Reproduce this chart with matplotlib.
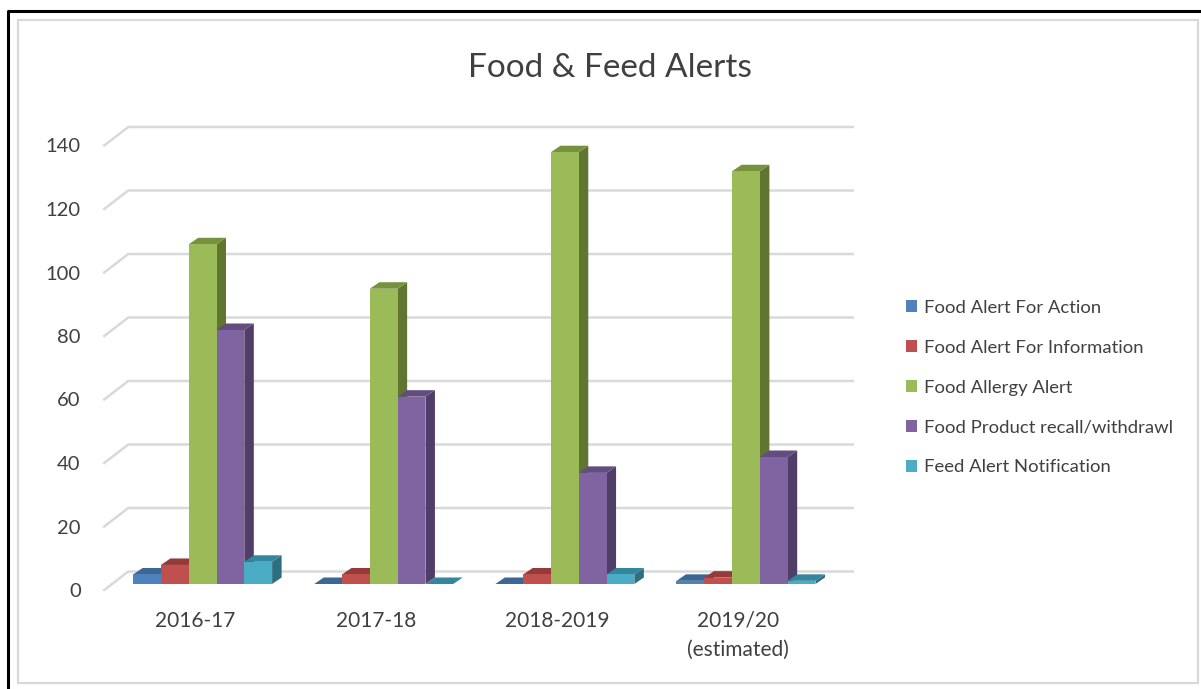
import numpy as np
import matplotlib
matplotlib.use("Agg")
import matplotlib.pyplot as plt
from matplotlib.patches import Polygon, Patch, Rectangle
from matplotlib.lines import Line2D

# data
years = ["2016-17", "2017-18", "2018-2019", "2019/20\n(estimated)"]
food_action = [3, 0, 0, 1]
food_info = [6, 3, 3, 2]
food_allergy = [107, 93, 136, 130]
food_recall = [80, 59, 35, 40]
feed_notif = [7, 0, 3, 1]
series_names = ["Food Alert For Action", "Food Alert For Information", "Food Allergy Alert",
                "Food Product recall/withdrawl", "Feed Alert Notification"]
y_ticks = [0, 20, 40, 60, 80, 100, 120, 140]

series = [food_action, food_info, food_allergy, food_recall, feed_notif]
front_cols = ["#4F81BD", "#C0504D", "#9BBB59", "#8064A2", "#4BACC6"]
top_cols = ["#3C6694", "#953A38", "#76923C", "#624C80", "#34869C"]
side_cols = ["#30537C", "#7C2F2D", "#5F7530", "#503E68", "#2F6E80"]
text_col = "#404040"

W, H = 1201, 689
plt.rcParams["font.family"] = ["Lato", "DejaVu Sans"]
fig = plt.figure(figsize=(W / 100, H / 100), dpi=100)
fig.patch.set_facecolor("white")

# frames
fig.add_artist(Rectangle((18 / W, 1 - 683 / H), 1180 / W, 663 / H, transform=fig.transFigure,
                         fill=False, ec="#D9D9D9", lw=1.6))
fig.add_artist(Line2D([8 / W, 8 / W, 1], [0, 1 - 11 / H, 1 - 11 / H], transform=fig.transFigure,
                      color="black", lw=2.2))

ax_w = 724.5
ax_h = 444.5
ax = fig.add_axes([104.25 / W, 1 - 590 / H, ax_w / W, ax_h / H])
ax.set_xlim(-0.5, 3.5)
ax.set_ylim(0, 140)
for s in ax.spines.values():
    s.set_visible(False)
ax.patch.set_alpha(0)

# pixel -> data size
px_x = 4 / ax_w
px_y = 140 / ax_h

# wall gridlines
wall_x = 24 * px_x
wall_y = 18.5 * px_y
for t in y_ticks:
    ax.plot([-0.5, -0.5 + wall_x, 3.5 + wall_x], [t, t + wall_y, t + wall_y], color="#D9D9D9",
            lw=1.8, clip_on=False, zorder=1, solid_joinstyle="miter")

bar_w = 27.8 * px_x
dx0 = 7.8 * px_x
dy0 = 6 * px_y
dx = 9.5 * px_x
dy = 6.5 * px_y

for i in range(len(years)):
    for j, vals in enumerate(series):
        v = vals[i]
        x0 = i + dx0 + (j - 2.5) * bar_w
        x1 = x0 + bar_w
        y0 = dy0
        y1 = dy0 + v
        z = 3 + i * 10 + j
        side = [(x1, y0), (x1 + dx, y0 + dy), (x1 + dx, y1 + dy), (x1, y1)]
        top = [(x0, y1), (x1, y1), (x1 + dx, y1 + dy), (x0 + dx, y1 + dy)]
        ax.add_patch(Polygon(side, fc=side_cols[j], ec="none", clip_on=False, zorder=z))
        ax.add_patch(Polygon(top, fc=top_cols[j], ec="none", clip_on=False, zorder=z))
        if v > 0:
            ax.add_patch(Rectangle((x0, y0), bar_w, v, fc=front_cols[j], ec="none", clip_on=False, zorder=z))

ax.set_xticks(range(len(years)))
ax.set_xticklabels(years, fontsize=15, color=text_col, linespacing=1.55)
ax.set_yticks(y_ticks)
ax.set_yticklabels([str(t) for t in y_ticks], fontsize=14.5, color=text_col)
ax.tick_params(axis="x", length=0, pad=15)
ax.tick_params(axis="y", length=0, pad=17)

fig.text(610 / W, 1 - 68 / H, "Food & Feed Alerts", ha="center", va="center", fontsize=24, color=text_col)

handles = [Patch(fc=c, ec="none", label=n) for c, n in zip(front_cols, series_names)]
fig.legend(handles=handles, loc="center left", bbox_to_anchor=(906 / W, 1 - 387.5 / H), frameon=False,
           fontsize=13.3, labelcolor=text_col, handlelength=0.6, handleheight=0.6, handletextpad=0.35,
           labelspacing=1.29, borderpad=0, borderaxespad=0)

fig.savefig("out.png", dpi=100)
